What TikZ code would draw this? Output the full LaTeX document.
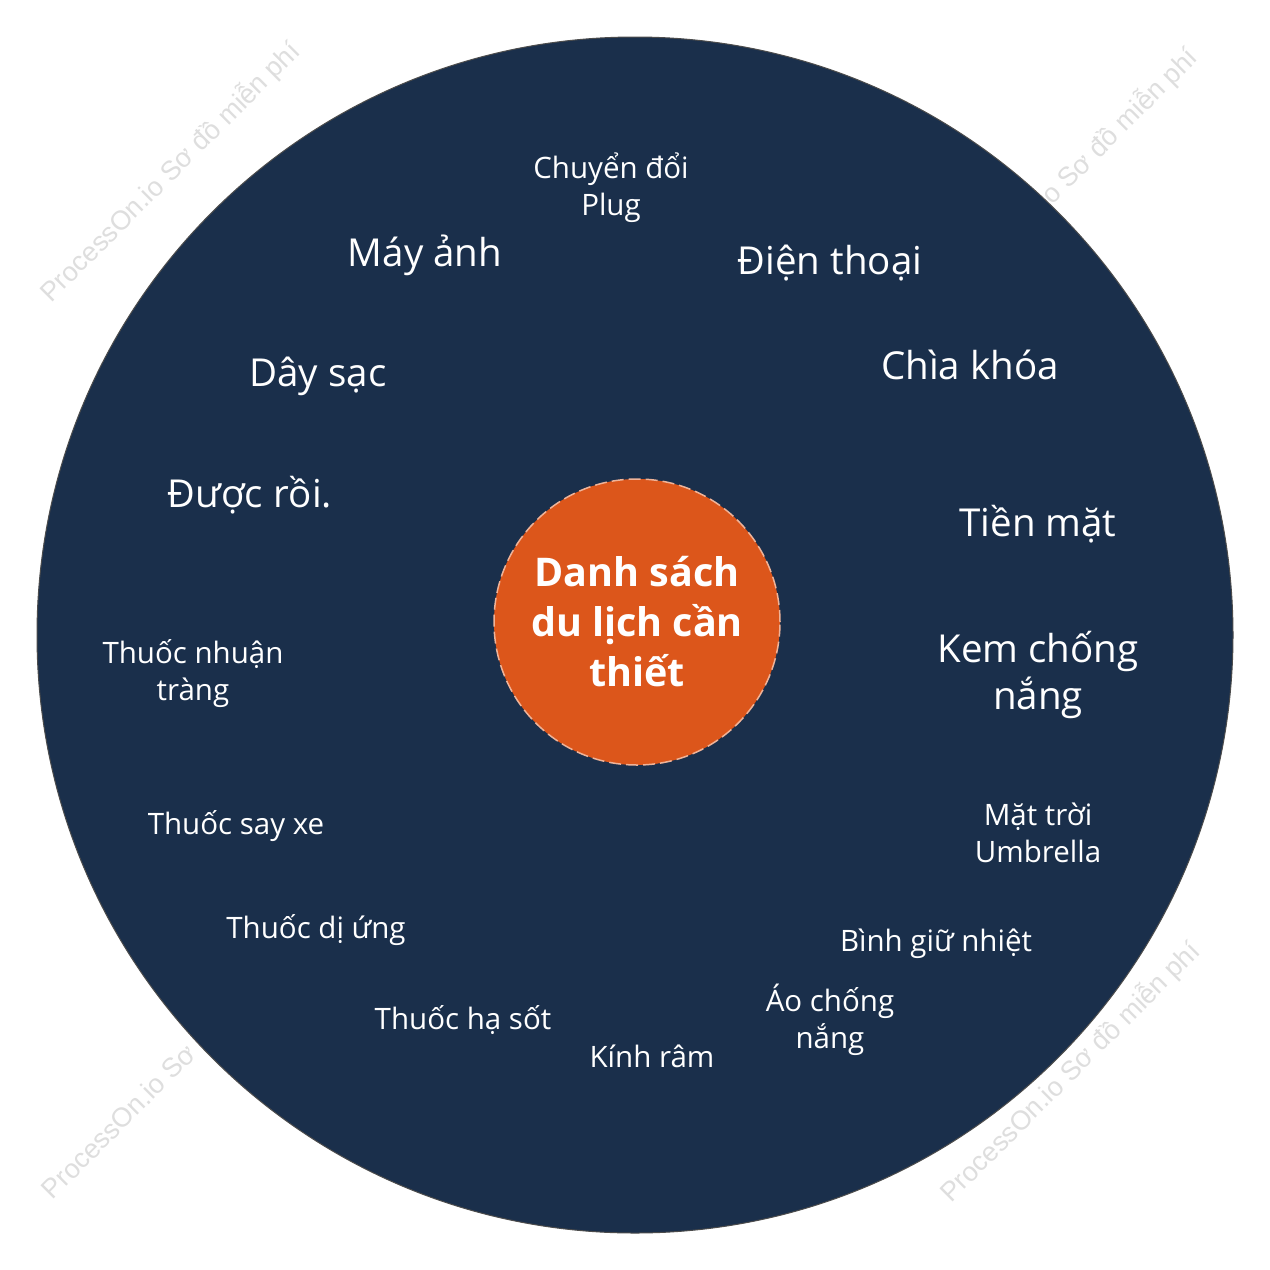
\documentclass[tikz,border=0pt]{standalone}
\usepackage{fontspec}
\setmainfont{Open Sans}
\newfontfamily\wmfont{Liberation Sans}
\definecolor{navy}{HTML}{1A2F4B}
\definecolor{orangec}{HTML}{DC561B}
\begin{document}
\begin{tikzpicture}[x=1pt,y=-1pt,
  small/.style={text=white,font=\fontsize{29.5}{37}\selectfont,align=center,inner sep=0pt},
  big/.style={text=white,font=\fontsize{38.5}{47}\selectfont,align=center,inner sep=0pt},
  wm/.style={text=black!13,font=\wmfont\fontsize{27}{30}\selectfont,rotate=45,inner sep=0pt}]
\useasboundingbox (0,0) rectangle (1270,1270);
\fill[white] (0,0) rectangle (1270,1270);
\node[wm] (w1) at (170,172) {ProcessOn.io Sơ đồ miễn phí};
\node[wm,anchor=east] (w2) at (1193,53) {io Sơ đồ miễn phí};
\node[wm,anchor=west] (w3) at (46,1194) {ProcessOn.io Sơ};
\node[wm] (w4) at (1070,1072) {ProcessOn.io Sơ đồ miễn phí};
\node[circle,fill=navy,draw=black!70,line width=1pt,minimum size=1196pt,inner sep=0pt] (outer) at (635,635) {};
\node[circle,fill=orangec,draw=white!55!orangec,dashed,dash pattern=on 12pt off 5pt,line width=1.5pt,minimum size=286pt,inner sep=0pt] (center) at (637,622) {};
\node[text=white,font=\bfseries\fontsize{39.5}{50}\selectfont,align=center,inner sep=0pt] (title) at (637,622) {Danh sách\\du lịch cần\\thiết};
\node[small] (n1) at (611,188) {Chuyển đổi\\Plug};
\node[big] (n2) at (425,255) {Máy ảnh};
\node[big] (n3) at (830,263) {Điện thoại};
\node[big] (n4) at (970,365) {Chìa khóa};
\node[big] (n5) at (318,376) {Dây sạc};
\node[big] (n6) at (250,495) {Được rồi.};
\node[big] (n7) at (1038,524) {Tiền mặt};
\node[big] (n8) at (1038,675) {Kem chống\\nắng};
\node[small] (n9) at (193,674) {Thuốc nhuận\\tràng};
\node[small] (n10) at (236,826) {Thuốc say xe};
\node[small] (n11) at (1038,833) {Mặt trời\\Umbrella};
\node[small] (n12) at (316,930) {Thuốc dị ứng};
\node[small] (n13) at (936,944) {Bình giữ nhiệt};
\node[small] (n14) at (830,1020) {Áo chống\\nắng};
\node[small] (n15) at (463,1020) {Thuốc hạ sốt};
\node[small] (n16) at (652,1056) {Kính râm};
\end{tikzpicture}
\end{document}
